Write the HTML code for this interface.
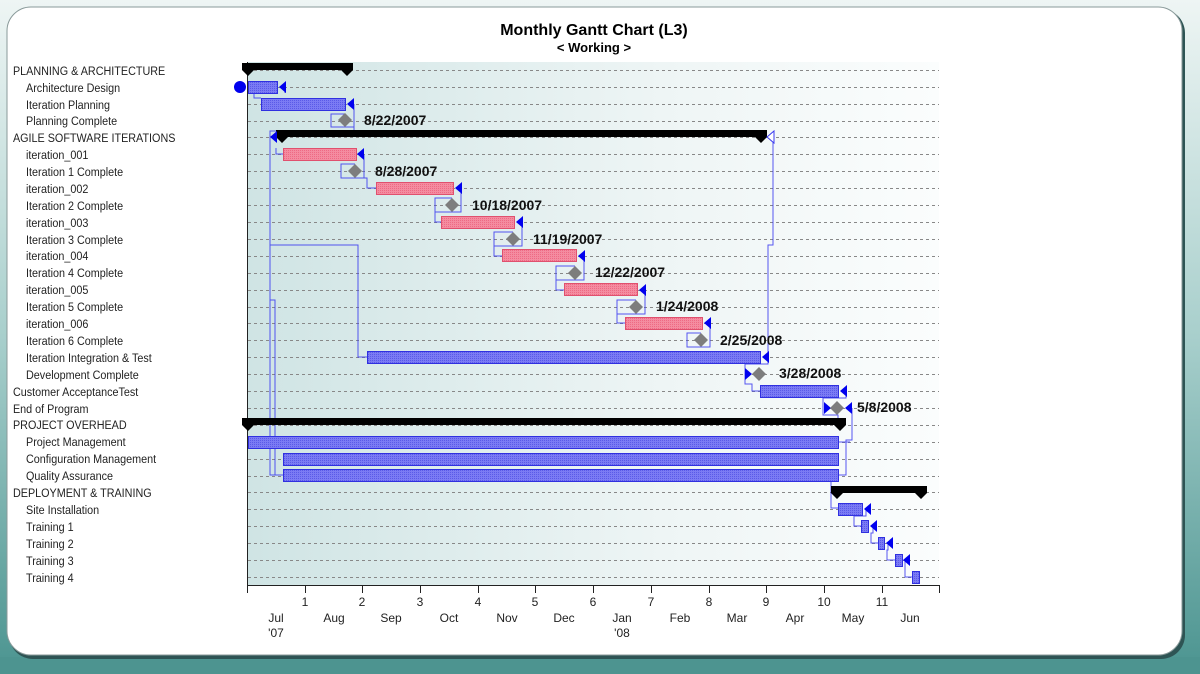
<!DOCTYPE html>
<html><head><meta charset="utf-8"><style>
html,body{margin:0;padding:0;width:1200px;height:674px;overflow:hidden;background:#5a9c98}
svg{display:block}
text{font-family:"Liberation Sans",Arial,sans-serif}
</style></head><body>
<svg width="1200" height="674" viewBox="0 0 1200 674" xmlns="http://www.w3.org/2000/svg">
<defs>
<linearGradient id="bg" x1="0" y1="0" x2="0" y2="1">
<stop offset="0" stop-color="#eef5f4"/><stop offset="0.5" stop-color="#a8cfcc"/><stop offset="1" stop-color="#4b9490"/></linearGradient>
<linearGradient id="plot" x1="0" y1="0" x2="1" y2="0">
<stop offset="0" stop-color="#cfe4e4"/><stop offset="0.6" stop-color="#eef5f5"/><stop offset="1" stop-color="#fbfdfd"/></linearGradient>
<pattern id="pb" width="2" height="2" patternUnits="userSpaceOnUse"><rect width="2" height="2" fill="#7b7bf4"/><rect width="1" height="1" fill="#5a5ae8"/></pattern>
<pattern id="pp" width="2" height="2" patternUnits="userSpaceOnUse"><rect width="2" height="2" fill="#f48ca0"/><rect width="1" height="1" fill="#ee6a84"/></pattern>
</defs>
<rect width="1200" height="674" fill="url(#bg)"/>
<rect x="0" y="657" width="1200" height="17" fill="#4d9490"/>
<rect x="9" y="9" width="1176" height="650" rx="24" fill="#2e5454"/>
<rect x="7" y="7" width="1175" height="648" rx="24" fill="#ffffff" stroke="#8a9a9a" stroke-width="1"/>

<text x="594" y="35" font-size="16" font-weight="bold" text-anchor="middle">Monthly Gantt Chart  (L3)</text>
<text x="594" y="52" font-size="13" font-weight="bold" text-anchor="middle">&lt; Working &gt;</text>

<rect x="247" y="62" width="692" height="523" fill="url(#plot)"/>
<line x1="247.5" y1="62" x2="247.5" y2="592" stroke="#222" stroke-width="1"/>
<line x1="247" y1="585.5" x2="939" y2="585.5" stroke="#222" stroke-width="1"/>
<g stroke="#222" stroke-width="1">
<line x1="247.5" y1="585" x2="247.5" y2="593"/><line x1="305.5" y1="585" x2="305.5" y2="593"/><line x1="362.5" y1="585" x2="362.5" y2="593"/><line x1="420.5" y1="585" x2="420.5" y2="593"/><line x1="478.5" y1="585" x2="478.5" y2="593"/><line x1="535.5" y1="585" x2="535.5" y2="593"/><line x1="593.5" y1="585" x2="593.5" y2="593"/><line x1="651.5" y1="585" x2="651.5" y2="593"/><line x1="709.5" y1="585" x2="709.5" y2="593"/><line x1="766.5" y1="585" x2="766.5" y2="593"/><line x1="824.5" y1="585" x2="824.5" y2="593"/><line x1="882.5" y1="585" x2="882.5" y2="593"/><line x1="939.5" y1="585" x2="939.5" y2="593"/>
</g>
<g font-size="12" fill="#222" text-anchor="middle">
<text x="305" y="606">1</text><text x="362" y="606">2</text><text x="420" y="606">3</text><text x="478" y="606">4</text><text x="535" y="606">5</text><text x="593" y="606">6</text><text x="651" y="606">7</text><text x="709" y="606">8</text><text x="766" y="606">9</text><text x="824" y="606">10</text><text x="882" y="606">11</text>
<text x="276" y="622">Jul</text><text x="334" y="622">Aug</text><text x="391" y="622">Sep</text><text x="449" y="622">Oct</text><text x="507" y="622">Nov</text><text x="564" y="622">Dec</text><text x="622" y="622">Jan</text><text x="680" y="622">Feb</text><text x="737" y="622">Mar</text><text x="795" y="622">Apr</text><text x="853" y="622">May</text><text x="910" y="622">Jun</text>
<text x="276" y="637">'07</text><text x="622" y="637">'08</text>
</g>

<g stroke="#888" stroke-width="1" stroke-dasharray="3,3">
<line x1="248" y1="70.5" x2="939" y2="70.5"/><line x1="248" y1="87.5" x2="939" y2="87.5"/><line x1="248" y1="104.5" x2="939" y2="104.5"/><line x1="248" y1="121.5" x2="939" y2="121.5"/><line x1="248" y1="137.5" x2="939" y2="137.5"/><line x1="248" y1="154.5" x2="939" y2="154.5"/><line x1="248" y1="171.5" x2="939" y2="171.5"/><line x1="248" y1="188.5" x2="939" y2="188.5"/><line x1="248" y1="205.5" x2="939" y2="205.5"/><line x1="248" y1="222.5" x2="939" y2="222.5"/><line x1="248" y1="239.5" x2="939" y2="239.5"/><line x1="248" y1="256.5" x2="939" y2="256.5"/><line x1="248" y1="273.5" x2="939" y2="273.5"/><line x1="248" y1="290.5" x2="939" y2="290.5"/><line x1="248" y1="307.5" x2="939" y2="307.5"/><line x1="248" y1="323.5" x2="939" y2="323.5"/><line x1="248" y1="340.5" x2="939" y2="340.5"/><line x1="248" y1="357.5" x2="939" y2="357.5"/><line x1="248" y1="374.5" x2="939" y2="374.5"/><line x1="248" y1="391.5" x2="939" y2="391.5"/><line x1="248" y1="408.5" x2="939" y2="408.5"/><line x1="248" y1="425.5" x2="939" y2="425.5"/><line x1="248" y1="442.5" x2="939" y2="442.5"/><line x1="248" y1="459.5" x2="939" y2="459.5"/><line x1="248" y1="476.5" x2="939" y2="476.5"/><line x1="248" y1="492.5" x2="939" y2="492.5"/><line x1="248" y1="509.5" x2="939" y2="509.5"/><line x1="248" y1="526.5" x2="939" y2="526.5"/><line x1="248" y1="543.5" x2="939" y2="543.5"/><line x1="248" y1="560.5" x2="939" y2="560.5"/><line x1="248" y1="577.5" x2="939" y2="577.5"/>
</g>

<!-- connectors -->
<g fill="none" stroke="#3a3af0" stroke-width="1" opacity="0.85">
<polyline points="277,93 254,93 254,98 261,98"/>
<polyline points="285,87 285,93"/>
<polyline points="354,104 354,127 331,127 331,114 345,114"/>
<polyline points="354,127 354,131 270,131 270,475 283,475"/>
<polyline points="270,245 358,245 358,357 367,357"/>
<polyline points="270,300 275,300 275,475"/>
<polyline points="276,148 276,154 283,154"/>
<polyline points="364,155 364,178 341,178 341,164 355,164"/>
<polyline points="364,178 367,178 367,188 376,188"/>
<polyline points="461,189 461,212 435,212 435,198 452,198"/>
<polyline points="435,212 435,222 441,222"/>
<polyline points="522,223 522,246 494,246 494,232 513,232"/>
<polyline points="494,246 494,256 502,256"/>
<polyline points="584,256 584,280 556,280 556,266 575,266"/>
<polyline points="556,280 556,290 564,290"/>
<polyline points="645,290 645,314 617,314 617,300 636,300"/>
<polyline points="617,314 617,323 625,323"/>
<polyline points="710,324 710,347 687,347 687,333 701,333"/>
<polyline points="773,137 773,245 768,245 768,357"/>
<polyline points="768,357 768,364 745,364 745,374"/>
<polyline points="745,374 745,384 752,384 752,391 760,391"/>
<polyline points="846,391 846,398 823,398 823,415 838,415 838,420"/>
<polyline points="852,408 852,440 846,440 846,475 838,475"/>
<polyline points="838,442 850,442"/>
<polyline points="831,470 831,508 838,508"/>
<polyline points="866,510 866,516 854,516 854,526 861,526"/>
<polyline points="873,527 873,533 871,533 871,543 878,543"/>
<polyline points="888,544 888,550 887,550 887,560 895,560"/>
<polyline points="905,561 905,567 905,567 905,577 912,577"/>
</g>

<!-- summary bars -->
<g fill="#000">
<polygon points="242,63 353,63 353,70 347,76 341,70 254,70 248,76 242,70"/>
<polygon points="276,130 767,130 767,137 761,143 755,137 288,137 282,143 276,137"/>
<polygon points="242,418 846,418 846,425 840,431 834,425 254,425 248,431 242,425"/>
<polygon points="831,486 927,486 927,493 921,499 915,493 843,493 837,499 831,493"/>
</g>

<!-- task bars -->
<g stroke="#3030e0" stroke-width="1" fill="url(#pb)">
<rect x="248.5" y="81.5" width="29" height="12"/>
<rect x="261.5" y="98.5" width="84" height="12"/>
<rect x="367.5" y="351.5" width="393" height="12"/>
<rect x="760.5" y="385.5" width="78" height="12"/>
<rect x="248.5" y="436.5" width="590" height="12"/>
<rect x="283.5" y="453.5" width="555" height="12"/>
<rect x="283.5" y="469.5" width="555" height="12"/>
<rect x="838.5" y="503.5" width="24" height="12"/>
<rect x="861.5" y="520.5" width="7" height="12"/>
<rect x="878.5" y="537.5" width="6" height="12"/>
<rect x="895.5" y="554.5" width="7" height="12"/>
<rect x="912.5" y="571.5" width="7" height="12"/>
</g>
<g stroke="#e0506e" stroke-width="1" fill="url(#pp)">
<rect x="283.5" y="148.5" width="73" height="12"/>
<rect x="376.5" y="182.5" width="77" height="12"/>
<rect x="441.5" y="216.5" width="73" height="12"/>
<rect x="502.5" y="249.5" width="74" height="12"/>
<rect x="564.5" y="283.5" width="73" height="12"/>
<rect x="625.5" y="317.5" width="77" height="12"/>
</g>

<!-- arrows -->
<g fill="#0000ee">
<polygon points="279,87 286,81 286,93"/>
<polygon points="347,104 354,98 354,110"/>
<polygon points="357,154 364,148 364,160"/>
<polygon points="455,188 462,182 462,194"/>
<polygon points="516,222 523,216 523,228"/>
<polygon points="578,256 585,250 585,262"/>
<polygon points="639,290 646,284 646,296"/>
<polygon points="704,323 711,317 711,329"/>
<polygon points="762,357 769,351 769,363"/>
<polygon points="752,374 745,368 745,380"/>
<polygon points="840,391 847,385 847,397"/>
<polygon points="831,408 824,402 824,414"/>
<polygon points="845,408 852,402 852,414"/>
<polygon points="864,509 871,503 871,515"/>
<polygon points="870,526 877,520 877,532"/>
<polygon points="886,543 893,537 893,549"/>
<polygon points="903,560 910,554 910,566"/>
<polygon points="270,137 277,131 277,143" />
<circle cx="240" cy="87" r="6"/>
</g>
<polygon points="767,137 774,131 774,143" fill="#fff" stroke="#3a3af0"/>

<!-- milestones -->
<g fill="#7d7d7d">
<polygon points="345,113 352,120 345,127 338,120"/>
<polygon points="355,164 362,171 355,178 348,171"/>
<polygon points="452,198 459,205 452,212 445,205"/>
<polygon points="513,232 520,239 513,246 506,239"/>
<polygon points="575,266 582,273 575,280 568,273"/>
<polygon points="636,300 643,307 636,314 629,307"/>
<polygon points="701,333 708,340 701,347 694,340"/>
<polygon points="759,367 766,374 759,381 752,374"/>
<polygon points="837,401 844,408 837,415 830,408"/>
</g>
<g font-size="14" font-weight="bold" fill="#111">
<text x="364" y="125">8/22/2007</text>
<text x="375" y="176">8/28/2007</text>
<text x="472" y="210">10/18/2007</text>
<text x="533" y="244">11/19/2007</text>
<text x="595" y="277">12/22/2007</text>
<text x="656" y="311">1/24/2008</text>
<text x="720" y="345">2/25/2008</text>
<text x="779" y="378">3/28/2008</text>
<text x="857" y="412">5/8/2008</text>
</g>

<!-- row labels -->
<g font-size="12" fill="#222" transform="scale(0.9,1)">
<text x="14.4" y="75">PLANNING &amp; ARCHITECTURE</text>
<text x="28.9" y="92">Architecture Design</text>
<text x="28.9" y="109">Iteration Planning</text>
<text x="28.9" y="125">Planning Complete</text>
<text x="14.4" y="142">AGILE SOFTWARE ITERATIONS</text>
<text x="28.9" y="159">iteration_001</text>
<text x="28.9" y="176">Iteration 1 Complete</text>
<text x="28.9" y="193">iteration_002</text>
<text x="28.9" y="210">Iteration 2 Complete</text>
<text x="28.9" y="227">iteration_003</text>
<text x="28.9" y="244">Iteration 3 Complete</text>
<text x="28.9" y="260">iteration_004</text>
<text x="28.9" y="277">Iteration 4 Complete</text>
<text x="28.9" y="294">iteration_005</text>
<text x="28.9" y="311">Iteration 5 Complete</text>
<text x="28.9" y="328">iteration_006</text>
<text x="28.9" y="345">Iteration 6 Complete</text>
<text x="28.9" y="362">Iteration Integration &amp; Test</text>
<text x="28.9" y="379">Development Complete</text>
<text x="14.4" y="396">Customer AcceptanceTest</text>
<text x="14.4" y="413">End of Program</text>
<text x="14.4" y="429">PROJECT OVERHEAD</text>
<text x="28.9" y="446">Project Management</text>
<text x="28.9" y="463">Configuration Management</text>
<text x="28.9" y="480">Quality Assurance</text>
<text x="14.4" y="497">DEPLOYMENT &amp; TRAINING</text>
<text x="28.9" y="514">Site Installation</text>
<text x="28.9" y="531">Training 1</text>
<text x="28.9" y="548">Training 2</text>
<text x="28.9" y="565">Training 3</text>
<text x="28.9" y="582">Training 4</text>
</g>
</svg>
</body></html>
